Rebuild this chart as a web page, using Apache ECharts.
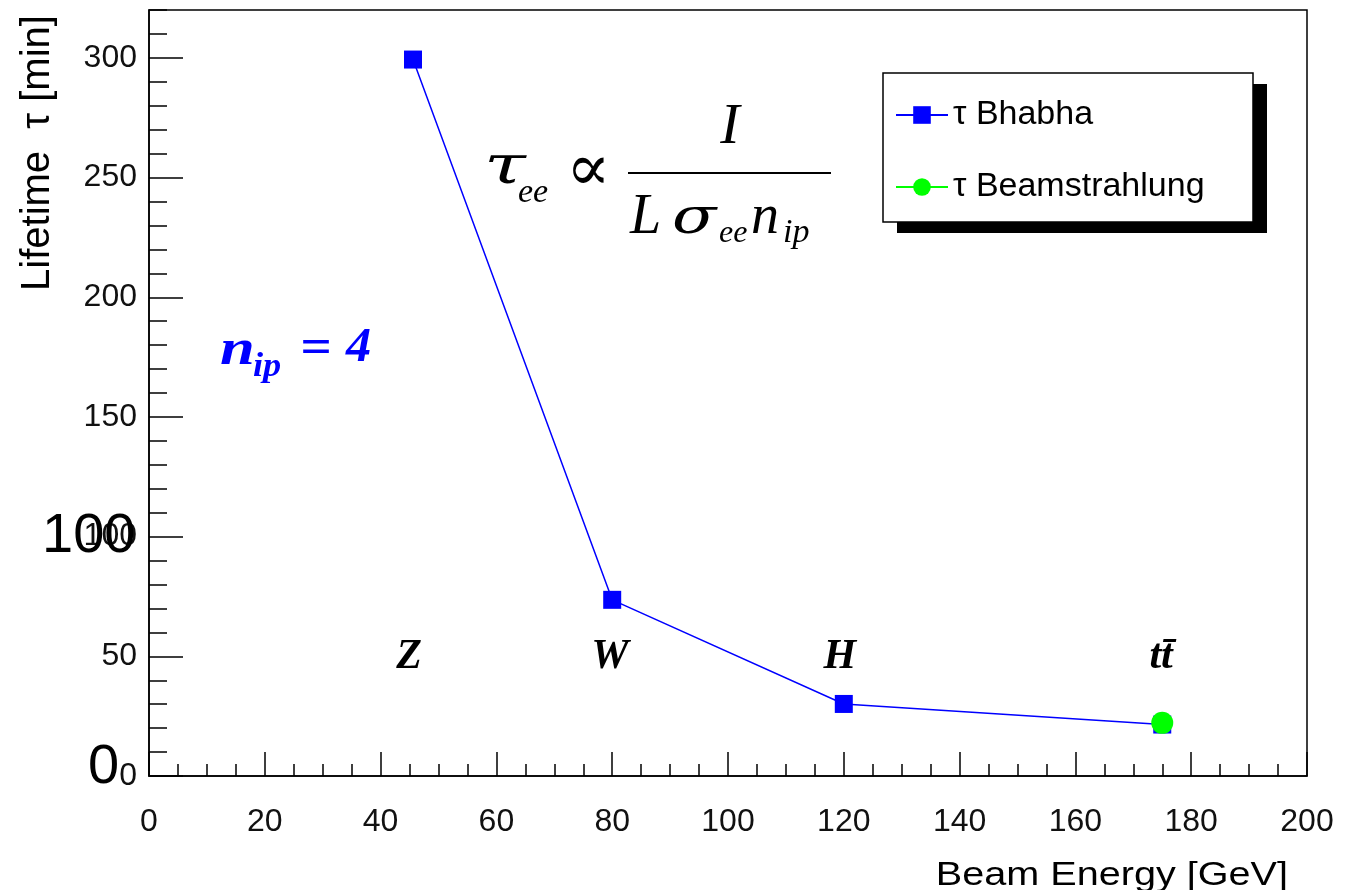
<!DOCTYPE html>
<html><head><meta charset="utf-8">
<script src="https://cdn.jsdelivr.net/npm/echarts@6/dist/echarts.min.js"></script>
<style>html,body{margin:0;padding:0;background:#fff}#c{width:1351px;height:890px}</style>
</head><body><div id="c"></div>
<script>
// ---- data ----
const energies = [45.6, 80, 120, 175];
const bhabhaLifetime = [299.3, 73.6, 30.1, 21.5];
const beamstrahlungEnergy = [175];
const beamstrahlungLifetime = [22.2];
const processLabels = ['Z', 'W', 'H', 'tt\u0304'];
const processLabelX = [44.9, 79.6, 119.3, 174.8];
const processLabelY = 49.5;
const seriesNames = ['\u03c4 Bhabha', '\u03c4 Beamstrahlung'];

const SANS = 'Liberation Sans, Arial, sans-serif';
const SERIF = 'Liberation Serif, Times New Roman, serif';
const DJS = 'DejaVu Serif, serif';

function txt(x, y, text, size, o) {
  o = o || {};
  return {
    type: 'text', x: x, y: y, z: 10, rotation: o.rotation || 0, scaleX: o.sx || 1,
    style: {
      text: text, fill: o.color || '#000',
      font: (o.style || 'normal') + ' ' + (o.weight || 'normal') + ' ' + size + 'px ' + (o.family || SERIF),
      textAlign: o.align || 'left', textVerticalAlign: 'middle'
    }
  };
}

const chart = echarts.init(document.getElementById('c'), null, {renderer: 'canvas'});
const it = {style: 'italic'};
const bi = {style: 'italic', weight: 'bold', color: '#0000ff'};

chart.setOption({
  animation: false,
  backgroundColor: '#fff',
  grid: {left: 149, right: 44, top: 10, bottom: 114, show: true, borderColor: '#000', borderWidth: 1.5, backgroundColor: 'transparent'},
  xAxis: {
    type: 'value', min: 0, max: 200, interval: 20,
    axisLine: {show: true, lineStyle: {color: '#000', width: 1.5}},
    axisTick: {show: true, inside: true, length: 24, lineStyle: {color: '#000', width: 1.5}},
    minorTick: {show: true, splitNumber: 4, length: 12, lineStyle: {color: '#000', width: 1.5}},
    splitLine: {show: false},
    axisLabel: {fontSize: 32, color: '#111', margin: 30, fontFamily: SANS}
  },
  yAxis: [{
    type: 'value', min: 0, max: 320, interval: 50, position: 'left',
    axisLine: {show: true, lineStyle: {color: '#000', width: 1.5}},
    axisTick: {show: true, inside: true, length: 34, lineStyle: {color: '#000', width: 1.5}},
    splitLine: {show: false},
    axisLabel: {fontSize: 32, color: '#111', margin: 12, fontFamily: SANS, showMaxLabel: false}
  }, {
    type: 'value', min: 0, max: 320, interval: 10, position: 'left', offset: 0,
    axisLine: {show: false},
    axisTick: {show: true, inside: true, length: 18, lineStyle: {color: '#000', width: 1.5}},
    splitLine: {show: false},
    axisLabel: {show: false}
  }],
  legend: {
    data: seriesNames, orient: 'vertical', left: 890, top: 93,
    itemWidth: 52, itemHeight: 22, itemGap: 38,
    textStyle: {fontSize: 34, fontFamily: SANS, color: '#000'}
  },
  series: [{
    name: seriesNames[0], type: 'line', yAxisIndex: 0,
    data: energies.map((e, i) => [e, bhabhaLifetime[i]]),
    symbol: 'rect', symbolSize: 18,
    itemStyle: {color: '#0000ff'}, lineStyle: {color: '#0000ff', width: 1.5}, z: 3
  }, {
    name: seriesNames[1], type: 'line', yAxisIndex: 0,
    data: beamstrahlungEnergy.map((e, i) => [e, beamstrahlungLifetime[i]]),
    symbol: 'circle', symbolSize: 22,
    itemStyle: {color: '#00ff00'}, lineStyle: {color: '#00ff00', width: 1.5}, z: 4
  }, {
    name: 'labels', type: 'scatter', yAxisIndex: 0, silent: true, symbolSize: 0,
    itemStyle: {opacity: 1},
    data: processLabelX.map((x, i) => [x, processLabelY, processLabels[i]]),
    label: {show: true, position: 'inside', formatter: p => p.data[2],
      fontFamily: SERIF, fontStyle: 'italic', fontWeight: 'bold', fontSize: 42, color: '#000'}
  }],
  graphic: [
    {type: 'rect', z: 1, shape: {x: 897, y: 84, width: 370, height: 149}, style: {fill: '#000'}},
    {type: 'rect', z: 2, shape: {x: 883, y: 73, width: 370, height: 149}, style: {fill: '#fff', stroke: '#000', lineWidth: 1.5}},
    // axis titles
    txt(38, 153, 'Lifetime  \u03c4 [min]', 40, {family: SANS, align: 'center', rotation: Math.PI / 2}),
    txt(1288, 876, 'Beam Energy [GeV]', 33, {family: SANS, align: 'right', sx: 1.2}),
    // formula
    txt(484, 169, '\u03c4', 54, {style: 'italic', family: DJS, sx: 1.4}),
    txt(518, 193, 'ee', 34, it),
    txt(566, 173, '\u221d', 66, {family: DJS}),
    {type: 'line', z: 10, shape: {x1: 628, y1: 173, x2: 831, y2: 173}, style: {stroke: '#000', lineWidth: 2}},
    txt(730, 128, 'I', 58, {style: 'italic', align: 'center'}),
    txt(630, 218, 'L', 56, it),
    txt(672, 220, '\u03c3', 50, {style: 'italic', family: DJS, sx: 1.3}),
    txt(719, 234, 'ee', 32, it),
    txt(751, 218, 'n', 56, it),
    txt(783, 233, 'ip', 34, it),
    // n_ip = 4
    txt(220, 351, 'n', 50, Object.assign({sx: 1.25}, bi)),
    txt(253, 367, 'ip', 33, Object.assign({sx: 1.1}, bi)),
    txt(300, 350, '=', 48, Object.assign({sx: 1.15}, bi)),
    txt(346, 349, '4', 48, Object.assign({sx: 1.05}, bi)),
    // overlay numbers
    txt(42, 537, '100', 56, {family: SANS}),
    txt(88, 768, '0', 56, {family: SANS})
  ]
});
</script>
</body></html>
